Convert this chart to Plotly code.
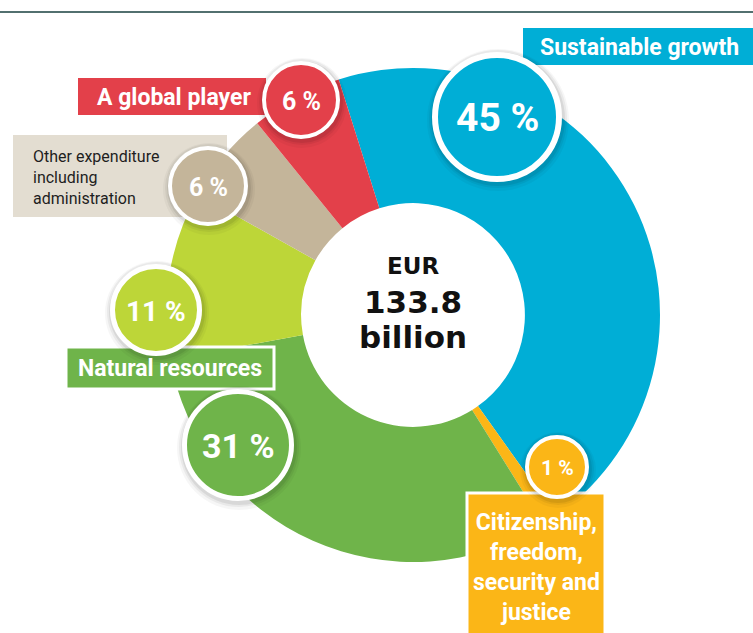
import plotly.graph_objects as go

# ---------------- data ----------------
categories = [
    "Sustainable growth",
    "Citizenship, freedom, security and justice",
    "Natural resources",
    "Natural resources (other)",
    "Other expenditure including administration",
    "A global player",
]
shares = [45, 1, 31, 11, 6, 6]
badge_labels = ["45 %", "1 %", "31 %", "11 %", "6 %", "6 %"]
total_lines = ["EUR", "133.8", "billion"]

label_texts = [
    "Sustainable growth",
    "Citizenship,<br>freedom,<br>security and<br>justice",
    "Natural resources",
    "Other expenditure<br>including<br>administration",
    "A global player",
]

# ---------------- styles / layout ----------------
W, H = 753, 633
slice_colors = ["#00AED6", "#FBB617", "#6FB44A", "#BDD638", "#C4B59A", "#E3404A"]
COND = "Roboto, Lato, sans-serif"
BOLD = "DejaVu Sans, Verdana, sans-serif"

donut_cx, donut_cy, donut_r, hole = 413, 315, 247, 0.453
start_rotation = -17.5

# badge centre x, centre y, outer diameter, ring width, font size (per slice order)
badge_x = [497, 557, 238, 156, 208, 301]
badge_y = [117, 467, 445, 310, 186, 100]
badge_d = [130, 64, 112, 92, 80, 78]
badge_ring = [6, 4, 5, 5, 4, 4]
badge_font = [39, 21, 34, 28, 25, 25]

# label boxes: x0, x1, y0, y1, fill, border width, text x, text y, anchor, font size, text color
box_geom = [
    (523, 760, 28, 65, "#00AED6", 0, 639, 47, "center", 23, "white"),
    (467, 605, 493, 645, "#FBB617", 3, 536, 567, "center", 23, "white"),
    (66, 274, 347, 389, "#6FB44A", 3, 170, 368, "center", 23, "white"),
    (13, 227, 135, 217, "#E3DDD1", 0, 31, 177, "left", 16, "#1E1E1E"),
    (78, 266, 78, 115, "#E3404A", 0, 174, 97, "center", 23, "white"),
]

fig = go.Figure()

# donut
fig.add_trace(go.Pie(
    labels=categories,
    values=shares,
    hole=hole,
    sort=False,
    direction="clockwise",
    rotation=start_rotation,
    marker=dict(colors=slice_colors, line=dict(width=0)),
    textinfo="none",
    hoverinfo="label+percent",
    showlegend=False,
    domain=dict(
        x=[(donut_cx - donut_r) / W, (donut_cx + donut_r) / W],
        y=[(H - donut_cy - donut_r) / H, (H - donut_cy + donut_r) / H],
    ),
))

# invisible trace to establish pixel-scaled axes
fig.add_trace(go.Scatter(x=[0, W], y=[0, H], mode="markers",
                         marker=dict(opacity=0), hoverinfo="skip", showlegend=False))

shapes = []
annotations = []

# top rule
shapes.append(dict(type="line", xref="x", yref="y", x0=0, x1=W, y0=12, y1=12,
                   line=dict(color="#52706F", width=2), layer="above"))

# label boxes
for (x0, x1, y0, y1, fill, bw, tx, ty, anc, fs, tc), txt in zip(box_geom, label_texts):
    shapes.append(dict(type="rect", xref="x", yref="y", x0=x0, x1=x1, y0=y0, y1=y1,
                       fillcolor=fill, line=dict(color="white", width=bw), layer="above"))
    bold = tc == "white"
    annotations.append(dict(
        x=tx, y=ty, xref="x", yref="y", showarrow=False,
        text=("<b>%s</b>" % txt) if bold else txt,
        xanchor=anc, yanchor="middle", align=anc,
        font=dict(family=COND, size=fs, color=tc),
    ))

# badges
for cx, cy, d, ring, fs, col, txt in zip(badge_x, badge_y, badge_d, badge_ring,
                                          badge_font, slice_colors, badge_labels):
    r = d / 2
    for grow, dx, dy, op in [(6, 1, 3, 0.035), (4, 1, 2, 0.05), (2, 1, 2, 0.07)]:
        shapes.append(dict(type="circle", xref="x", yref="y",
                           x0=cx - r - grow + dx, x1=cx + r + grow + dx,
                           y0=cy - r - grow + dy, y1=cy + r + grow + dy,
                           fillcolor="rgba(0,0,0,%g)" % op, line=dict(width=0), layer="above"))
    rr = r - ring / 2
    shapes.append(dict(type="circle", xref="x", yref="y",
                       x0=cx - rr, x1=cx + rr, y0=cy - rr, y1=cy + rr,
                       fillcolor=col, line=dict(color="white", width=ring), layer="above"))
    annotations.append(dict(x=cx, y=cy + 1, xref="x", yref="y", showarrow=False,
                            text="<b>%s</b>" % txt,
                            font=dict(family=COND, size=fs, color="white")))

# centre total
for txt, yy, fs in zip(total_lines, [266, 302, 337], [23, 31, 31]):
    annotations.append(dict(x=donut_cx, y=yy, xref="x", yref="y", showarrow=False,
                            text="<b>%s</b>" % txt,
                            font=dict(family=BOLD, size=fs, color="#111111")))

fig.update_layout(
    width=W, height=H,
    margin=dict(l=0, r=0, t=0, b=0),
    paper_bgcolor="white", plot_bgcolor="white",
    xaxis=dict(range=[0, W], visible=False, fixedrange=True, domain=[0, 1]),
    yaxis=dict(range=[H, 0], visible=False, fixedrange=True, domain=[0, 1]),
    shapes=shapes,
    annotations=annotations,
    showlegend=False,
)

fig.write_html("out.html", config={"displayModeBar": False},
               post_script="document.body.style.margin='0';document.body.style.overflow='hidden';")
